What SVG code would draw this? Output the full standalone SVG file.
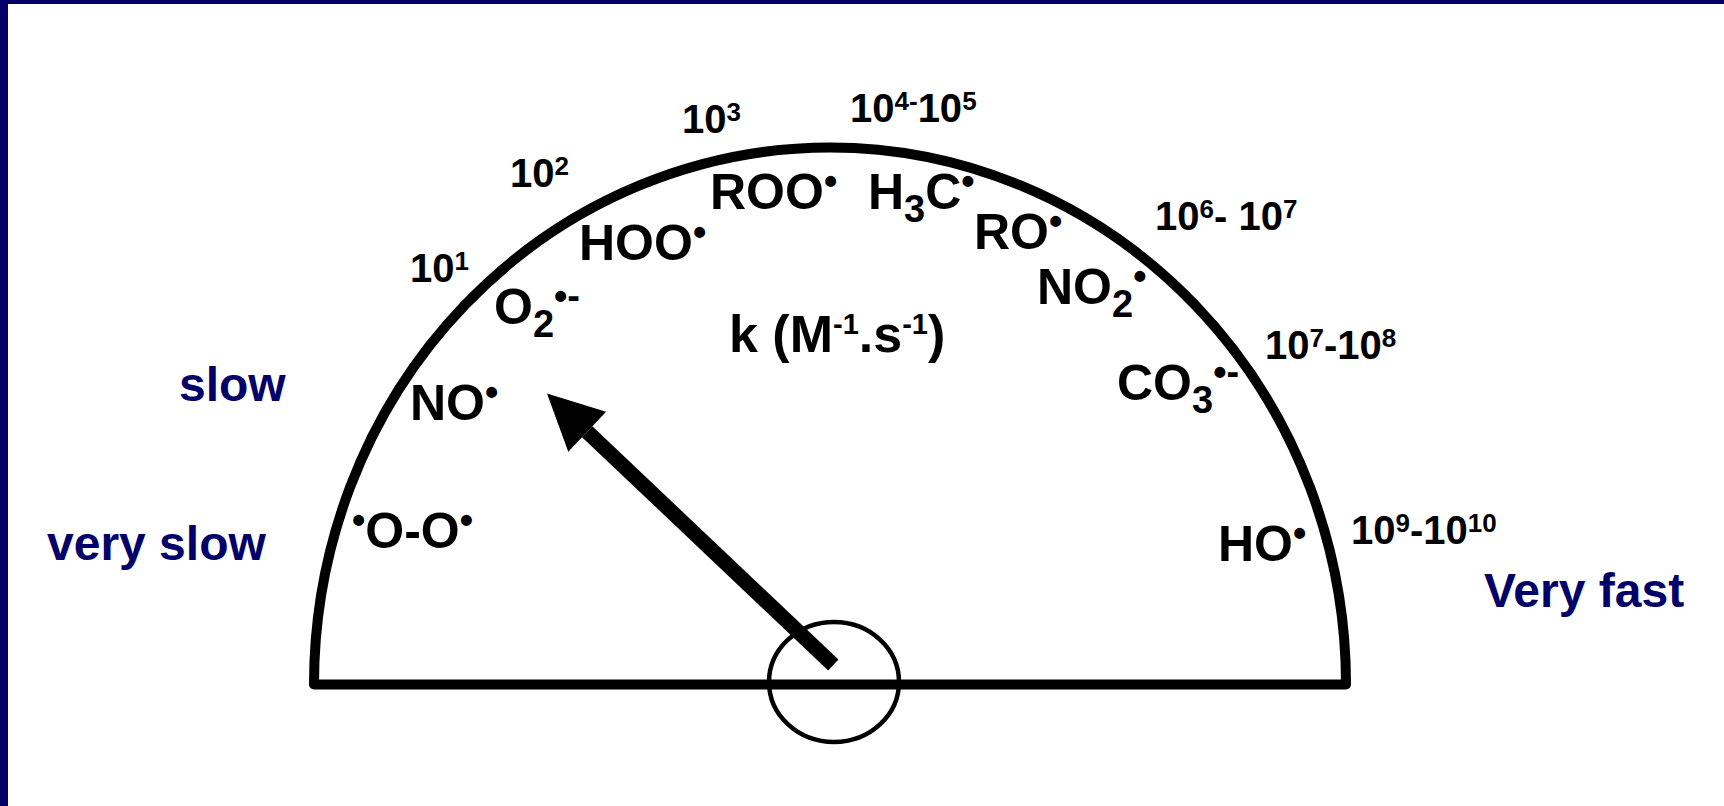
<svg xmlns="http://www.w3.org/2000/svg" width="1724" height="806" viewBox="0 0 1724 806">
<defs>
<style>
text{font-family:"Liberation Sans",Arial,Helvetica,sans-serif;font-weight:bold;fill:#000}
.sp{font-size:50px}
.sub{font-size:38px}
.rad{font-size:38px}
.num{font-size:40px}
.sup{font-size:26px}
.k{font-size:52px}
.ksup{font-size:29px}
.nav{font-size:48px;fill:#030069}
.frame{fill:#030069}
.gauge{fill:none;stroke:#000;stroke-width:10;stroke-linejoin:round}
.hub{fill:none;stroke:#000;stroke-width:4.5}
.needle{stroke:#000;stroke-width:15;fill:none}
</style>
<marker id="head" markerUnits="userSpaceOnUse" markerWidth="56" markerHeight="56" viewBox="0 0 56 56" refX="0" refY="27.5" orient="auto" overflow="visible"><path d="M0,0 L55.4,27.5 L0,55 Z" fill="#000"/></marker>
</defs>
<rect width="1724" height="806" fill="#fff"/>
<g id="frame">
<rect class="frame" x="0" y="0" width="1724" height="4"/>
<rect class="frame" x="0" y="0" width="8" height="806"/>
</g>
<g id="gauge">
<path class="gauge" d="M314,684.5 A516,537 0 0 1 1346,684.5 Z"/>
<ellipse class="hub" cx="834" cy="682" rx="65" ry="60"/>
</g>
<g id="connectors">
<line id="needle" class="needle" x1="833.3" y1="665" x2="587.2" y2="431.7" marker-end="url(#head)"/>
</g>
<g id="scale">
<g id="k1"><text class="num" x="410" y="282">10<tspan class="sup" y="270">1</tspan></text></g>
<g id="k2"><text class="num" x="510" y="187">10<tspan class="sup" y="175">2</tspan></text></g>
<g id="k3"><text class="num" x="682" y="133">10<tspan class="sup" y="121">3</tspan></text></g>
<g id="k4"><text class="num" x="850" y="122">10<tspan class="sup" y="110">4-</tspan><tspan y="122">10</tspan><tspan class="sup" y="110">5</tspan></text></g>
<g id="k6"><text class="num" x="1155" y="230">10<tspan class="sup" y="218">6</tspan><tspan y="230">- 10</tspan><tspan class="sup" y="218">7</tspan></text></g>
<g id="k7"><text class="num" x="1265" y="359">10<tspan class="sup" y="347">7</tspan><tspan y="359">-10</tspan><tspan class="sup" y="347">8</tspan></text></g>
<g id="k9"><text class="num" x="1351" y="544">10<tspan class="sup" y="532">9</tspan><tspan y="544">-10</tspan><tspan class="sup" y="532">10</tspan></text></g>
</g>
<g id="species">
<g id="oo"><text class="sp" x="352" y="548"><tspan class="rad" y="533">•</tspan><tspan y="548">O-O</tspan><tspan class="rad" y="533">•</tspan></text></g>
<g id="no"><text class="sp" x="410" y="420">NO<tspan class="rad" y="405">•</tspan></text></g>
<g id="o2"><text class="sp" x="494" y="323.5">O<tspan class="sub" y="336.5">2</tspan><tspan class="rad" y="308.5">•-</tspan></text></g>
<g id="hoo"><text class="sp" x="579" y="260">HOO<tspan class="rad" y="245">•</tspan></text></g>
<g id="roo"><text class="sp" x="710" y="209">ROO<tspan class="rad" y="194">•</tspan></text></g>
<g id="h3c"><text class="sp" x="868" y="208.5">H<tspan class="sub" y="221.5">3</tspan><tspan y="208.5">C</tspan><tspan class="rad" y="193.5">•</tspan></text></g>
<g id="ro"><text class="sp" x="974" y="248.5">RO<tspan class="rad" y="233.5">•</tspan></text></g>
<g id="no2"><text class="sp" x="1037" y="303.5">NO<tspan class="sub" y="316.5">2</tspan><tspan class="rad" y="288.5">•</tspan></text></g>
<g id="co3"><text class="sp" x="1117" y="400">CO<tspan class="sub" y="413">3</tspan><tspan class="rad" y="385">•-</tspan></text></g>
<g id="ho"><text class="sp" x="1218" y="560.5">HO<tspan class="rad" y="545.5">•</tspan></text></g>
</g>
<g id="unit"><text class="k" x="729" y="352">k (M<tspan class="ksup" y="334">-1</tspan><tspan y="352">.s</tspan><tspan class="ksup" y="334">-1</tspan><tspan y="352">)</tspan></text></g>
<g id="speed">
<g id="slow"><text class="nav" x="179" y="401">slow</text></g>
<g id="veryslow"><text class="nav" x="47" y="560">very slow</text></g>
<g id="veryfast"><text class="nav" x="1484" y="607">Very fast</text></g>
</g>
</svg>
